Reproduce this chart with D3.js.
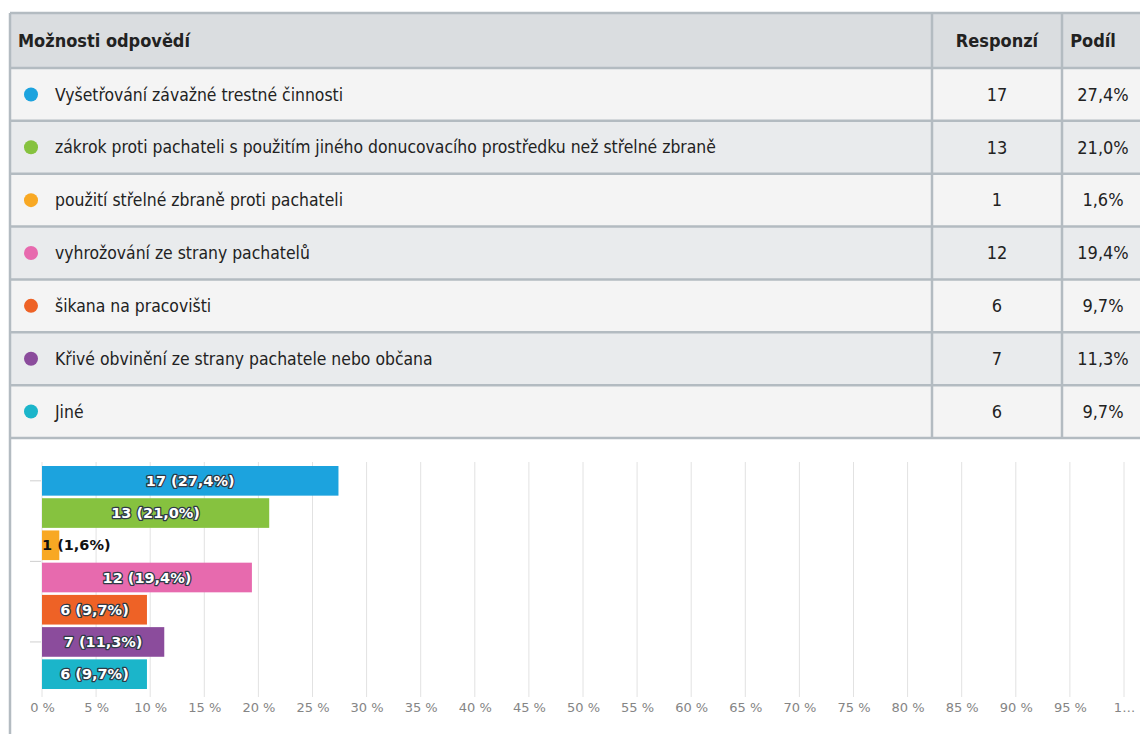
<!DOCTYPE html>
<html>
<head>
<meta charset="utf-8">
<script src="https://cdn.jsdelivr.net/npm/d3@7"></script>
<style>
  html, body { margin: 0; padding: 0; background: #fff; overflow: hidden; }
  svg { display: block; }
</style>
</head>
<body>
<svg id="chart"></svg>
<script>
// Data
const categories = [
    "Vyšetřování závažné trestné činnosti",
    "zákrok proti pachateli s použitím jiného donucovacího prostředku než střelné zbraně",
    "použití střelné zbraně proti pachateli",
    "vyhrožování ze strany pachatelů",
    "šikana na pracovišti",
    "Křivé obvinění ze strany pachatele nebo občana",
    "Jiné"
];
const responses = [17, 13, 1, 12, 6, 7, 6];
const shares = [27.4, 21.0, 1.6, 19.4, 9.7, 11.3, 9.7];
const colors = ["#1ca3de", "#86c23f", "#f8a823", "#e76aae", "#ee6226", "#8b4c9c", "#1bb5ca"];
const headers = ["Možnosti odpovědí", "Responzí", "Podíl"];
const xTicks = d3.range(0, 101, 5);

const rows = categories.map((c, i) => ({
    label: c, count: responses[i], share: shares[i], color: colors[i]
}));

const fmtShare = v => v.toFixed(1).replace(".", ",") + "%";

const width = 1140, height = 734;
const svg = d3.select("#chart").attr("width", width).attr("height", height);

// ---- table ----
const tableFont = "'DejaVu Sans Condensed', 'Liberation Sans Narrow', sans-serif";
const borderColor = "#b3bbc1";
const T = { left: 10, right: 1152, top: 13, headerBottom: 68, bottom: 438 };
const colX = [T.left, 932, 1062, T.right];

const yRow = d3.scaleBand()
    .domain(d3.range(rows.length))
    .range([T.headerBottom, T.bottom]);

const table = svg.append("g");

// header
table.append("rect")
    .attr("x", T.left).attr("y", T.top)
    .attr("width", T.right - T.left).attr("height", T.headerBottom - T.top)
    .attr("fill", "#dadde0");

table.selectAll(".rowbg").data(rows).enter().append("rect")
    .attr("class", "rowbg")
    .attr("x", T.left)
    .attr("y", (d, i) => yRow(i))
    .attr("width", T.right - T.left)
    .attr("height", yRow.bandwidth())
    .attr("fill", (d, i) => i % 2 === 0 ? "#f4f4f4" : "#e9ebed");

// horizontal lines
const hLines = [T.top, T.headerBottom].concat(rows.map((d, i) => yRow(i) + yRow.bandwidth()));
table.selectAll(".hline").data(hLines).enter().append("line")
    .attr("x1", T.left).attr("x2", T.right)
    .attr("y1", d => d).attr("y2", d => d)
    .attr("stroke", borderColor).attr("stroke-width", 2.5);

// vertical lines
table.selectAll(".vline").data(colX.slice(1, 3)).enter().append("line")
    .attr("x1", d => d).attr("x2", d => d)
    .attr("y1", T.top).attr("y2", T.bottom)
    .attr("stroke", borderColor).attr("stroke-width", 2.5);

// header text
const headerY = (T.top + T.headerBottom) / 2;
table.append("text")
    .attr("x", 18).attr("y", headerY).attr("dy", "0.35em")
    .attr("font-family", tableFont).attr("font-weight", "bold")
    .attr("font-size", 18).attr("fill", "#222")
    .text(headers[0]);
table.selectAll(".htext").data(headers.slice(1)).enter().append("text")
    .attr("x", (d, i) => (colX[i + 1] + colX[i + 2]) / 2 + (i === 1 ? -14 : 0))
    .attr("y", headerY).attr("dy", "0.35em")
    .attr("text-anchor", "middle")
    .attr("font-family", tableFont).attr("font-weight", "bold")
    .attr("font-size", 18).attr("fill", "#222")
    .text(d => d);

// rows
const rowG = table.selectAll(".row").data(rows).enter().append("g")
    .attr("transform", (d, i) => `translate(0,${yRow(i) + yRow.bandwidth() / 2})`);

rowG.append("circle")
    .attr("cx", 31).attr("cy", 0).attr("r", 7)
    .attr("fill", d => d.color);

rowG.append("text")
    .attr("x", 55).attr("dy", "0.35em")
    .attr("font-family", tableFont).attr("font-size", 17.4).attr("fill", "#222")
    .text(d => d.label);

rowG.append("text")
    .attr("x", (colX[1] + colX[2]) / 2).attr("dy", "0.35em")
    .attr("text-anchor", "middle")
    .attr("font-family", tableFont).attr("font-size", 18).attr("fill", "#222")
    .text(d => d.count);

rowG.append("text")
    .attr("x", 1103).attr("dy", "0.35em")
    .attr("text-anchor", "middle")
    .attr("font-family", tableFont).attr("font-size", 18).attr("fill", "#222")
    .text(d => fmtShare(d.share));

// left border of whole panel
svg.append("line")
    .attr("x1", T.left).attr("x2", T.left)
    .attr("y1", T.top).attr("y2", height)
    .attr("stroke", borderColor).attr("stroke-width", 2.5);

// ---- bar chart ----
const chartFont = "'DejaVu Sans', sans-serif";
const x = d3.scaleLinear().domain([0, 100]).range([42, 1124]);
const y = d3.scaleBand()
    .domain(d3.range(rows.length))
    .range([466, 689])
    .paddingInner(0.08);
const gridTop = 462, gridBottom = 697;

const chart = svg.append("g");

chart.selectAll(".grid").data(xTicks).enter().append("line")
    .attr("x1", d => x(d)).attr("x2", d => x(d))
    .attr("y1", gridTop).attr("y2", gridBottom)
    .attr("stroke", "#e2e2e2").attr("stroke-width", 1);

chart.append("g")
    .attr("transform", `translate(0,${gridBottom})`)
    .call(d3.axisBottom(x).tickValues(xTicks).tickSize(0).tickPadding(6)
        .tickFormat(d => d === 100 ? "1…" : d + " %"))
    .call(g => g.select(".domain").remove())
    .call(g => g.selectAll("text")
        .attr("font-family", chartFont).attr("font-size", 13).attr("fill", "#858585"));

// small left ticks
const yIdx = d3.scaleLinear().domain([0, rows.length]).range([y(0) - y.step() * y.paddingInner() / 2, y(rows.length - 1) + y.bandwidth() + y.step() * y.paddingInner() / 2]);
chart.selectAll(".ytick").data([0.5, 3, 5.5]).enter().append("line")
    .attr("x1", 30).attr("x2", 41)
    .attr("y1", d => yIdx(d)).attr("y2", d => yIdx(d))
    .attr("stroke", "#cfcfcf").attr("stroke-width", 1);

chart.selectAll(".bar").data(rows).enter().append("rect")
    .attr("class", "bar")
    .attr("x", x(0))
    .attr("y", (d, i) => y(i))
    .attr("width", d => x(d.share) - x(0))
    .attr("height", y.bandwidth())
    .attr("fill", d => d.color);

chart.selectAll(".blabel").data(rows).enter().append("text")
    .attr("class", "blabel")
    .each(function (d, i) {
        const t = d3.select(this);
        const label = `${d.count} (${fmtShare(d.share)})`;
        const barW = x(d.share) - x(0);
        t.text(label)
            .attr("y", y(i) + y.bandwidth() / 2)
            .attr("dy", "0.36em")
            .attr("font-family", chartFont)
            .attr("font-weight", "bold")
            .attr("font-size", 14.5);
        if (barW > 100) {
            t.attr("x", x(0) + barW / 2)
                .attr("text-anchor", "middle")
                .attr("fill", "#fff")
                .attr("stroke", "#2e3a46")
                .attr("stroke-width", 2.6)
                .attr("stroke-linejoin", "round")
                .style("paint-order", "stroke");
        } else {
            t.attr("x", x(0))
                .attr("text-anchor", "start")
                .attr("fill", "#111");
        }
    });
</script>
</body>
</html>
